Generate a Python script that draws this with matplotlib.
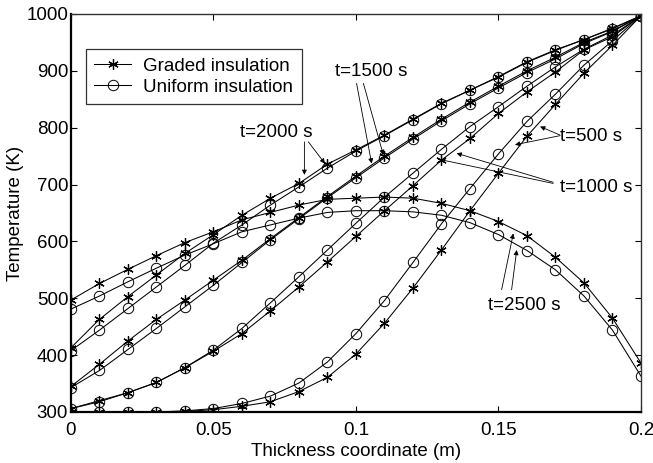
import matplotlib
matplotlib.use("Agg")
import matplotlib.pyplot as plt

plt.rcParams["font.family"] = ["Liberation Sans", "DejaVu Sans"]

# thickness coordinate (m), markers every 1 cm
x = [0.00, 0.01, 0.02, 0.03, 0.04, 0.05, 0.06, 0.07, 0.08, 0.09, 0.10,
     0.11, 0.12, 0.13, 0.14, 0.15, 0.16, 0.17, 0.18, 0.19, 0.20]

# temperatures (K)
graded_500 = [300, 300, 300, 300, 301, 304, 310, 318, 336, 361, 402,
              456, 518, 585, 654, 720, 785, 841, 896, 945, 997]
uniform_500 = [300, 300, 300, 300, 302, 306, 315, 328, 351, 388, 438,
               496, 563, 631, 693, 754, 811, 859, 910, 953, 997]

graded_1000 = [306, 320, 334, 352, 378, 407, 438, 478, 520, 564, 609,
               654, 698, 743, 781, 825, 863, 898, 937, 960, 997]
uniform_1000 = [306, 318, 334, 352, 378, 409, 447, 492, 538, 585, 632,
                678, 720, 762, 802, 837, 873, 907, 938, 963, 997]

graded_1500 = [345, 384, 425, 463, 497, 532, 567, 605, 642, 679, 715,
               750, 783, 815, 845, 873, 900, 924, 950, 970, 997]
uniform_1500 = [343, 373, 410, 447, 485, 523, 563, 603, 640, 677, 712,
                747, 780, 812, 842, 870, 897, 921, 948, 969, 997]

graded_2000 = [413, 463, 503, 541, 579, 612, 646, 676, 702, 736, 761,
               787, 815, 843, 866, 890, 916, 937, 955, 975, 997]
uniform_2000 = [408, 444, 482, 520, 558, 597, 629, 664, 696, 729, 759,
                786, 814, 842, 866, 889, 915, 936, 955, 974, 997]

graded_2500 = [497, 526, 551, 575, 598, 617, 638, 651, 664, 674, 676,
               678, 676, 667, 654, 635, 610, 572, 527, 465, 386]
uniform_2500 = [481, 504, 529, 553, 576, 596, 617, 629, 641, 651, 654,
                654, 652, 646, 633, 612, 584, 550, 504, 444, 363]

graded = [graded_500, graded_1000, graded_1500, graded_2000, graded_2500]
uniform = [uniform_500, uniform_1000, uniform_1500, uniform_2000, uniform_2500]

FS = 13.5
STAR = dict(color="k", lw=0.75, marker=(6, 2, 0), ms=7.5, mew=0.9, mec="k")
CIRC = dict(color="k", lw=0.75, marker="o", ms=7.5, mew=0.7, mfc="none", mec="k")

fig = plt.figure(figsize=(6.53, 4.63), dpi=100)
ax = fig.add_axes([0.1087, 0.1102, 0.8729, 0.8596])

for g, u in zip(graded, uniform):
    ax.plot(x, g, **STAR)
    ax.plot(x, u, **CIRC)

ax.set_xlim(0, 0.2)
ax.set_ylim(300, 1000)
ax.set_xticks([0, 0.05, 0.1, 0.15, 0.2], ["0", "0.05", "0.1", "0.15", "0.2"])
ax.set_yticks(range(300, 1001, 100))
ax.tick_params(direction="in", top=True, right=True, length=4, width=0.8,
               labelsize=FS)
ax.tick_params(axis="x", pad=7)
ax.tick_params(axis="y", pad=2)
ax.set_xlabel("Thickness coordinate (m)", fontsize=FS, labelpad=3)
ax.set_ylabel("Temperature (K)", fontsize=FS, labelpad=2)
for side in ("left", "bottom"):
    ax.spines[side].set_linewidth(1.6)
for side in ("top", "right"):
    ax.spines[side].set_linewidth(1.0)
    ax.spines[side].set_color("#333333")

# legend handles
h1, = ax.plot([], [], **STAR)
h2, = ax.plot([], [], **CIRC)
leg = ax.legend([h1, h2], ["Graded insulation", "Uniform insulation"],
                loc="upper left", bbox_to_anchor=(86 / 653, 1 - 49 / 463),
                bbox_transform=fig.transFigure, fontsize=FS, frameon=True,
                fancybox=False, edgecolor="k", handlelength=1.95,
                handletextpad=0.65, borderpad=0.45, labelspacing=0.22,
                borderaxespad=0)
leg.get_frame().set_linewidth(0.9)

arrow = dict(arrowstyle="-|>", color="k", lw=0.6, mutation_scale=7,
             shrinkA=0, shrinkB=0)


def label(text, pos, tails, tips, ha="center"):
    ax.text(pos[0], pos[1], text, fontsize=FS, ha=ha, va="center")
    for tail, tip in zip(tails, tips):
        ax.annotate("", xy=tip, xytext=tail, arrowprops=arrow)


label("t=2000 s", (0.0719, 792),
      [(0.0819, 775), (0.0833, 775)], [(0.0819, 717), (0.0891, 737)])
label("t=1500 s", (0.1053, 898),
      [(0.1002, 878), (0.1026, 878)], [(0.1055, 737), (0.1096, 752)])
label("t=500 s", (0.1716, 784),
      [(0.1716, 787), (0.1716, 786)], [(0.1646, 802), (0.1558, 770)], ha="left")
label("t=1000 s", (0.1716, 694),
      [(0.1692, 704), (0.1692, 702)], [(0.1353, 755), (0.1295, 744)], ha="left")
label("t=2500 s", (0.159, 488),
      [(0.1511, 515), (0.1546, 515)], [(0.1552, 614), (0.1564, 585)])

fig.savefig("out.png", dpi=100)
